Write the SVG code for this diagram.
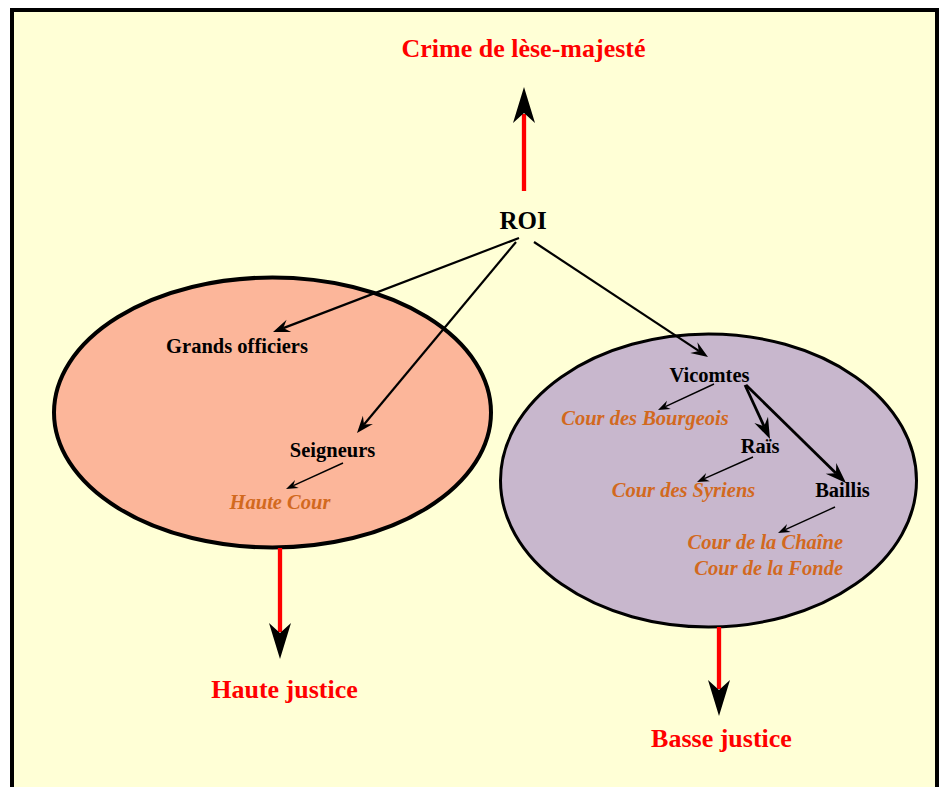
<svg xmlns="http://www.w3.org/2000/svg" width="940" height="787" viewBox="0 0 940 787">
<style>
text{font-family:"Liberation Serif","Times New Roman",serif;font-weight:bold}
.lbl{font-size:20.5px;fill:#000;text-anchor:middle}
.court{font-size:20.5px;fill:#d2691e;font-style:italic;text-anchor:middle}
.red{font-size:26px;fill:#ff0000;text-anchor:middle}
.big{stroke:#ff0000;stroke-width:4.3;fill:none}
.a2{stroke:#000;stroke-width:2.2;fill:none}
.a1{stroke:#000;stroke-width:1.4;fill:none}
.a3{stroke:#000;stroke-width:2.8;fill:none}
.head{fill:#000;stroke:none}
</style>
<rect x="12" y="10" width="925" height="800" fill="#ffffd6" stroke="#000" stroke-width="4"/>
<g id="haute-ellipse"><ellipse cx="272.5" cy="412.5" rx="218.5" ry="135" fill="#fcb69a" stroke="#000" stroke-width="4"/></g>
<g id="basse-ellipse"><ellipse cx="708.5" cy="480.5" rx="208" ry="146.5" fill="#c8b7cd" stroke="#000" stroke-width="3"/></g>
<g id="connectors">
<line class="big" x1="524" y1="191" x2="524" y2="114"/>
<polygon class="head" points="524,87 535,123 524,113 513,123"/>
<line class="big" x1="280" y1="548" x2="280" y2="632"/>
<polygon class="head" points="280,659 291,623 280,633 269,623"/>
<line class="big" x1="719" y1="627" x2="719" y2="689"/>
<polygon class="head" points="719,716 730,680 719,690 708,680"/>
<line class="a2" x1="519" y1="238" x2="283.3" y2="328.1"/>
<polygon class="head" points="273,332 286.56,319.86 283.28,328.07 291.2,331.99"/>
<line class="a2" x1="516" y1="242" x2="364" y2="424.5"/>
<polygon class="head" points="357,433 362.88,415.77 364.04,424.55 372.88,424.09"/>
<line class="a2" x1="534" y1="242" x2="698.8" y2="350.9"/>
<polygon class="head" points="708,357 690.24,353.05 698.82,350.93 697.4,342.21"/>
<line class="a1" x1="343" y1="463" x2="293.3" y2="485.7"/>
<polygon class="head" points="286,489 295.05,479.93 293.28,485.68 298.79,488.11"/>
<line class="a1" x1="714" y1="384" x2="665.3" y2="406.6"/>
<polygon class="head" points="658,410 666.99,400.87 665.26,406.63 670.77,409.03"/>
<line class="a3" x1="745" y1="385" x2="764.1" y2="426.3"/>
<polygon class="head" points="770,439 754.37,423.09 764.12,426.3 767.99,416.79"/>
<line class="a3" x1="746" y1="385" x2="836" y2="473.2"/>
<polygon class="head" points="846,483 825.75,473.66 836,473.2 836.25,462.94"/>
<line class="a1" x1="753" y1="457" x2="704.3" y2="478.7"/>
<polygon class="head" points="697,482 706.13,473 704.3,478.74 709.79,481.22"/>
<line class="a1" x1="835" y1="507" x2="785.3" y2="529.7"/>
<polygon class="head" points="778,533 787.05,523.93 785.28,529.68 790.79,532.11"/>
</g>
<g id="crime"><text class="red" x="523.5" y="57">Crime de lèse-majesté</text></g>
<g id="roi"><text class="lbl" x="523" y="229" style="font-size:25px">ROI</text></g>
<g id="grands-officiers"><text class="lbl" x="237" y="353">Grands officiers</text></g>
<g id="seigneurs"><text class="lbl" x="332.5" y="457">Seigneurs</text></g>
<g id="haute-cour"><text class="court" x="280" y="509">Haute Cour</text></g>
<g id="vicomtes"><text class="lbl" x="709.5" y="382">Vicomtes</text></g>
<g id="cour-bourgeois"><text class="court" x="645" y="425">Cour des Bourgeois</text></g>
<g id="rais"><text class="lbl" x="760" y="453">Raïs</text></g>
<g id="cour-syriens"><text class="court" x="683.5" y="497">Cour des Syriens</text></g>
<g id="baillis"><text class="lbl" x="842.5" y="497">Baillis</text></g>
<g id="cour-chaine-fonde"><text class="court" x="843" y="549" style="text-anchor:end">Cour de la Chaîne</text><text class="court" x="843" y="575" style="text-anchor:end">Cour de la Fonde</text></g>
<g id="haute-justice"><text class="red" x="284.5" y="698">Haute justice</text></g>
<g id="basse-justice"><text class="red" x="721.5" y="747">Basse justice</text></g>
</svg>
